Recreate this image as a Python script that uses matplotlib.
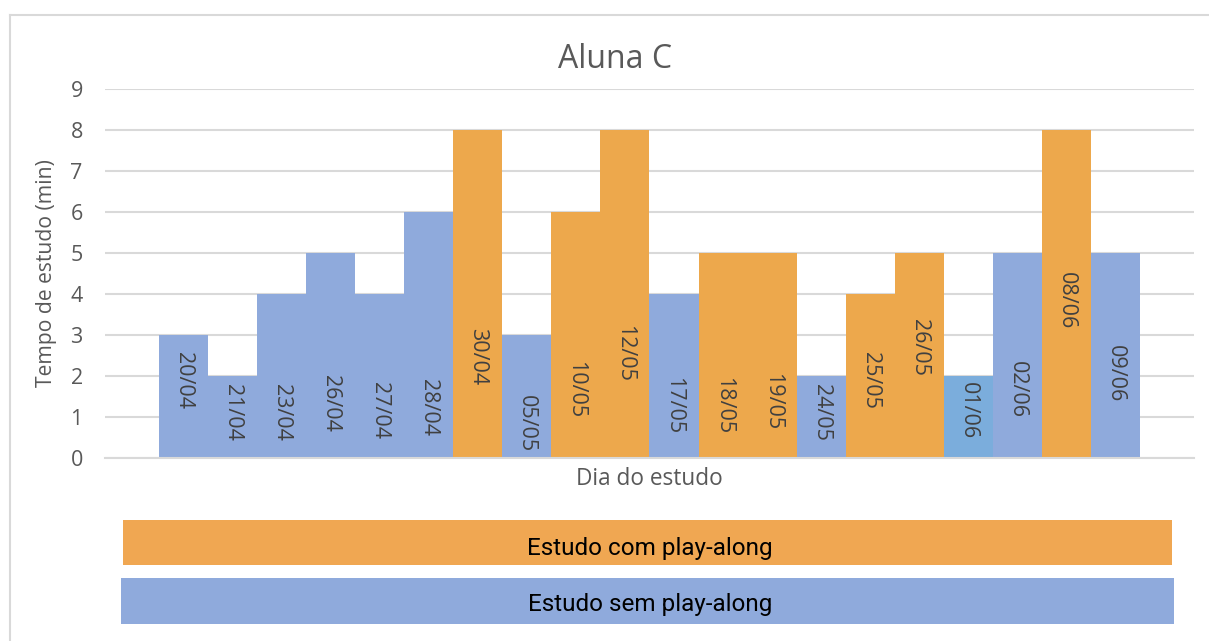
import matplotlib
matplotlib.use("Agg")
import matplotlib.pyplot as plt
from matplotlib.patches import Rectangle
from matplotlib.lines import Line2D

# ---- data ----
dias = ["20/04", "21/04", "23/04", "26/04", "27/04", "28/04", "30/04", "05/05",
        "10/05", "12/05", "17/05", "18/05", "19/05", "24/05", "25/05", "26/05",
        "01/06", "02/06", "08/06", "09/06"]
tempo = [3, 2, 4, 5, 4, 6, 8, 3, 6, 8, 4, 5, 5, 2, 4, 5, 2, 5, 8, 5]
# 'com' = estudo com play-along, 'sem' = estudo sem play-along, 'sem2' = lighter blue
tipo = ["sem", "sem", "sem", "sem", "sem", "sem", "com", "sem", "com", "com",
        "sem", "com", "com", "sem", "com", "com", "sem2", "sem", "com", "sem"]
legenda = ["Estudo com play-along", "Estudo sem play-along"]

# label placement (style)
label_y = [1.9, 1.12, 1.1, 1.34, 1.15, 1.22, 2.48, 0.85, 1.66, 2.54, 1.27, 1.27,
           1.37, 1.12, 1.88, 2.7, 1.15, 1.66, 3.85, 2.07]

cmap = {"com": "#EDA84C", "sem": "#8FAADC", "sem2": "#7BADDC"}

W, H = 1209, 641
fig = plt.figure(figsize=(W / 100, H / 100), dpi=100)
plt.rcParams['font.family'] = ['Open Sans', 'DejaVu Sans']

def fx(px):
    return px / W

def fy(py):
    return 1 - py / H

ax = fig.add_axes([fx(105), fy(458), fx(1194) - fx(105), fy(89) - fy(458)])
x = list(range(len(dias)))
ax.bar(x, tempo, width=1.0, color=[cmap[t] for t in tipo], linewidth=0, zorder=2)
for xi, d, ly in zip(x, dias, label_y):
    ax.text(xi, ly, d, rotation=-90, ha="center", va="center", fontsize=15.5,
            color="#404040", zorder=3)

ax.set_xlim(-1.6, 20.6)
ax.set_ylim(0, 9)
ax.set_yticks(range(0, 10))
ax.set_xticks([])
ax.yaxis.grid(True, color="#D9D9D9", linewidth=1.5, zorder=0)
ax.set_axisbelow(True)
for s in ["top", "right", "left"]:
    ax.spines[s].set_visible(False)
ax.spines["bottom"].set_color("#D9D9D9")
ax.spines["bottom"].set_linewidth(1.5)
ax.tick_params(axis="y", length=0, labelsize=15.5, labelcolor="#595959", pad=16)

fig.text(fx(615), fy(60), "Aluna C", ha="center", va="center", fontsize=23,
         color="#595959")
fig.text(fx(47), fy(273), "Tempo de estudo (min)", rotation=90, ha="center",
         va="center", fontsize=15.2, color="#595959")
fig.text(fx(649), fy(479), "Dia do estudo", ha="center", va="center", fontsize=16.3,
         color="#595959")

# outer frame
fig.add_artist(Line2D([fx(10), fx(10)], [fy(15), 0], color="#D9D9D9", linewidth=1.5,
                      transform=fig.transFigure))
fig.add_artist(Line2D([fx(10), 1], [fy(15), fy(15)], color="#D9D9D9", linewidth=1.5,
                      transform=fig.transFigure))

# legend boxes
fig.add_artist(Rectangle((fx(123), fy(565)), fx(1172) - fx(123), fy(520) - fy(565),
                         transform=fig.transFigure, facecolor="#F0A752", edgecolor="none"))
fig.add_artist(Rectangle((fx(121), fy(624)), fx(1174) - fx(121), fy(578) - fy(624),
                         transform=fig.transFigure, facecolor="#8FAADC", edgecolor="none"))
nfont = ['Liberation Sans Narrow', 'Roboto', 'DejaVu Sans']
fig.text(fx(650), fy(548), legenda[0], ha="center", va="center", fontsize=17.5,
         color="black", family=nfont)
fig.text(fx(650), fy(605), legenda[1], ha="center", va="center", fontsize=17.5,
         color="black", family=nfont)

fig.savefig("out.png", dpi=100)
